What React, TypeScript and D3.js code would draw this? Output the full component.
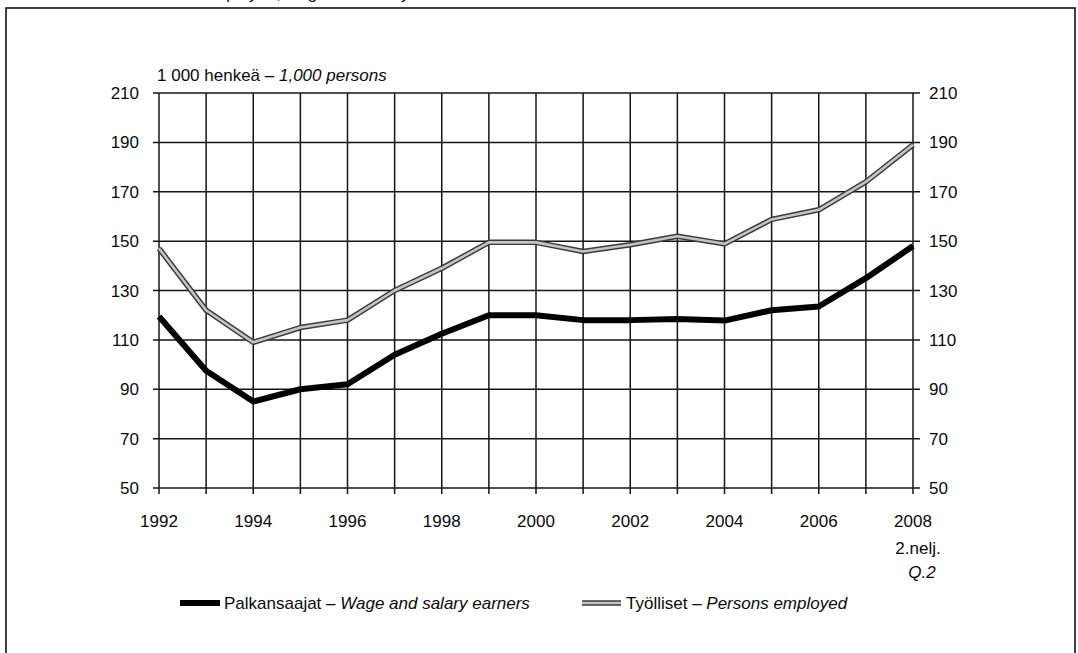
import React from "react";
import * as d3 from "d3";

// years on the x axis (2008 = 2nd quarter)
const years = [1992, 1993, 1994, 1995, 1996, 1997, 1998, 1999, 2000, 2001, 2002, 2003, 2004, 2005, 2006, 2007, 2008];
const yearLabels = [1992, 1994, 1996, 1998, 2000, 2002, 2004, 2006, 2008];
const yTicks = [50, 70, 90, 110, 130, 150, 170, 190, 210];

// 1 000 persons
const wageEarners = [119.5, 97.5, 85, 90, 92, 104, 112.5, 120, 120, 118, 118, 118.5, 117.8, 122, 123.5, 135, 148];
const employed = [147, 122, 109, 115, 118, 130, 139, 149.5, 149.5, 145.8, 148.5, 152, 148.9, 158.8, 162.7, 174, 189];

const width = 1078;
const height = 653;
const font = "'Liberation Sans', Arial, Helvetica, sans-serif";

export default function App() {
  const x = d3.scaleLinear().domain([1992, 2008]).range([159, 913]);
  const y = d3.scaleLinear().domain([50, 210]).range([488, 93]);

  const line = d3
    .line<number>()
    .x((_, i) => x(years[i]))
    .y((d) => y(d));

  const grid = "#141414";
  const ink = "#0a0a0a";

  return (
    <div style={{ position: "fixed", left: 0, top: 0 }}>
      <svg width={width} height={height} style={{ display: "block", background: "#fff" }} fontFamily={font}>
        {/* title, cut off at the top edge as in the scan */}
        <text x={202} y={-1.5} fontSize={17} fontStyle="italic" fill={ink}>
          Employed, wage and salary earners
        </text>

        {/* frame */}
        <rect x={6} y={8} width={1069} height={700} fill="none" stroke="#111" strokeWidth={1.6} />

        {/* horizontal grid + ticks */}
        {yTicks.map((t) => (
          <line key={"h" + t} x1={153} x2={920} y1={y(t)} y2={y(t)} stroke={grid} strokeWidth={1.5} />
        ))}
        {/* vertical grid + ticks */}
        {years.map((yr) => (
          <line key={"v" + yr} x1={x(yr)} x2={x(yr)} y1={y(210)} y2={y(50) + 6} stroke={grid} strokeWidth={1.5} />
        ))}

        {/* left axis labels */}
        {yTicks.map((t) => (
          <text key={"l" + t} x={139} y={y(t)} dy="0.36em" textAnchor="end" fontSize={17} fill={ink}>
            {t}
          </text>
        ))}
        {/* right axis labels */}
        {yTicks.map((t) => (
          <text key={"r" + t} x={929} y={y(t)} dy="0.36em" textAnchor="start" fontSize={17} fill={ink}>
            {t}
          </text>
        ))}
        {/* x labels */}
        {yearLabels.map((yr) => (
          <text key={"x" + yr} x={x(yr)} y={527} textAnchor="middle" fontSize={17} fill={ink}>
            {yr}
          </text>
        ))}
        <text x={x(2008) + 5} y={554} textAnchor="middle" fontSize={17} fill={ink}>
          2.nelj.
        </text>
        <text x={x(2008) + 9} y={578} textAnchor="middle" fontSize={17} fontStyle="italic" fill={ink}>
          Q.2
        </text>

        {/* unit label */}
        <text x={157} y={81} fontSize={17} fill={ink}>
          1 000 henkeä – <tspan fontStyle="italic">1,000 persons</tspan>
        </text>

        {/* series */}
        <path d={line(employed) ?? ""} fill="none" stroke="#3a3a3a" strokeWidth={5.5} strokeLinejoin="round" />
        <path d={line(employed) ?? ""} fill="none" stroke="#c4c4c4" strokeWidth={2.6} strokeLinejoin="round" />
        <path d={line(wageEarners) ?? ""} fill="none" stroke="#000" strokeWidth={6} strokeLinejoin="round" />

        {/* legend */}
        <line x1={180} x2={220} y1={603} y2={603} stroke="#000" strokeWidth={6} />
        <text x={224} y={609} fontSize={17} fill={ink}>
          Palkansaajat – <tspan fontStyle="italic">Wage and salary earners</tspan>
        </text>
        <line x1={582} x2={621} y1={603} y2={603} stroke="#3a3a3a" strokeWidth={5.5} />
        <line x1={582} x2={621} y1={603} y2={603} stroke="#c4c4c4" strokeWidth={2.6} />
        <text x={626} y={609} fontSize={17} fill={ink}>
          Työlliset – <tspan fontStyle="italic">Persons employed</tspan>
        </text>
      </svg>
    </div>
  );
}
